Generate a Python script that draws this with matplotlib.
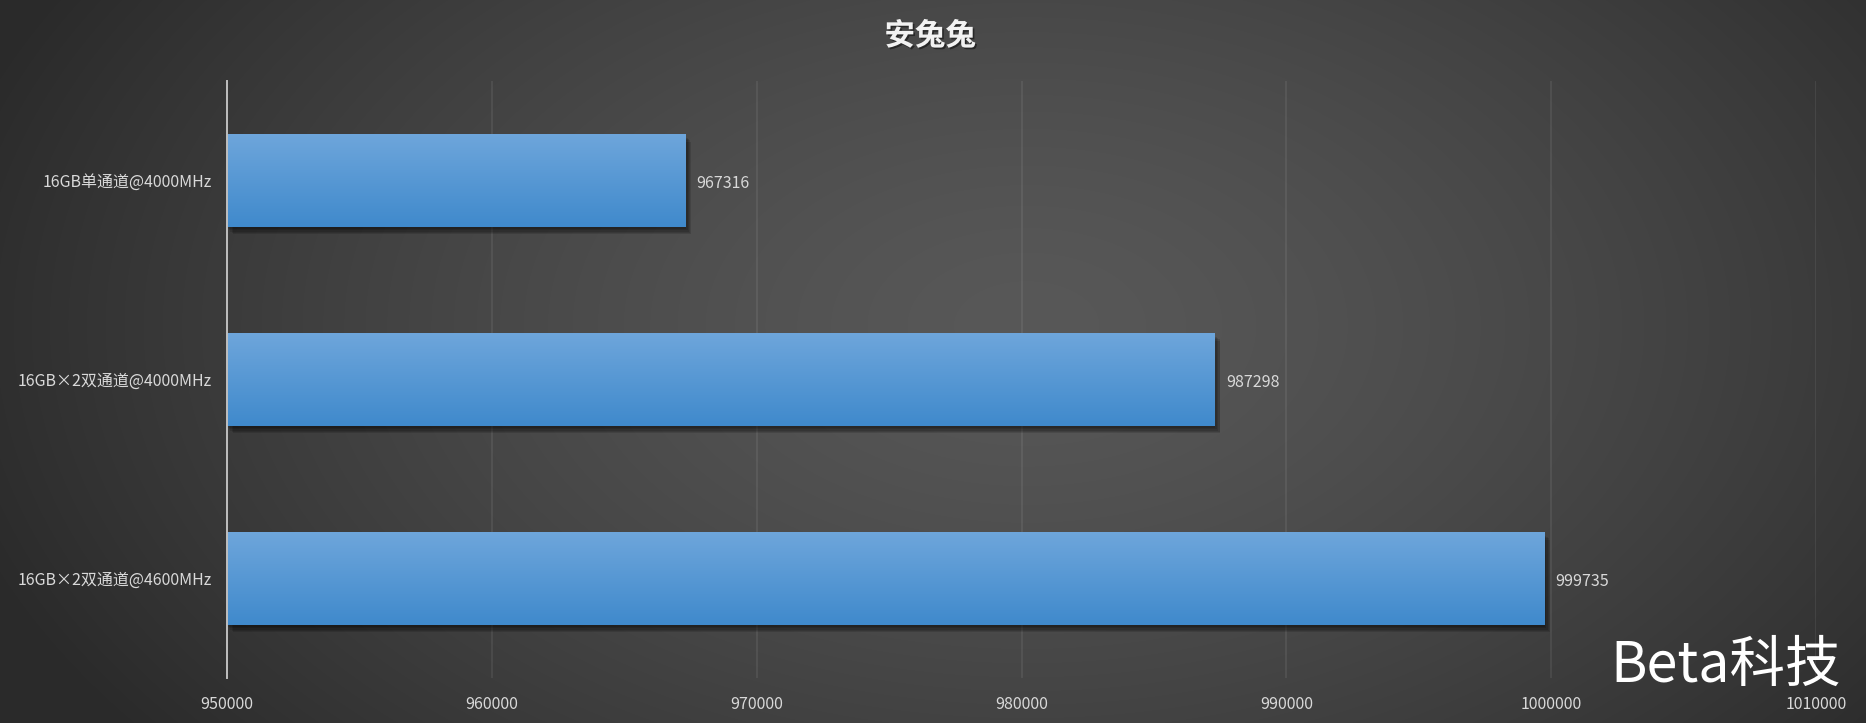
import numpy as np
import matplotlib
matplotlib.use("Agg")
import matplotlib.pyplot as plt
import matplotlib.patheffects as pe

plt.rcParams['font.family'] = ['Noto Sans CJK SC', 'DejaVu Sans']

title = "安兔兔"
categories = ["16GB单通道@4000MHz", "16GB×2双通道@4000MHz", "16GB×2双通道@4600MHz"]
values = [967316, 987298, 999735]
xticks = [950000, 960000, 970000, 980000, 990000, 1000000, 1010000]
watermark = "Beta科技"

W, H = 1866, 723
fig = plt.figure(figsize=(W / 100, H / 100), dpi=100)

# radial gradient background
bg = fig.add_axes([0, 0, 1, 1], zorder=-10)
yy, xx = np.mgrid[0:H, 0:W]
cx, cy = 0.55 * W, 0.45 * H
d = np.sqrt(((xx - cx) / (0.6 * W)) ** 2 + ((yy - cy) / (0.95 * H)) ** 2)
d = np.clip(d, 0, 1)
lv = (0x58 - (0x58 - 0x2a) * d ** 1.4) / 255.0
img = np.dstack([lv, lv, lv])
bg.imshow(img, aspect='auto', extent=(0, 1, 0, 1), origin='upper')
bg.set_axis_off()

ax = fig.add_axes([227 / W, 1 - 678 / H, (1816 - 227) / W, (678 - 81) / H])
ax.patch.set_alpha(0)

y = np.arange(len(categories))
bh = 0.465
shadow = [pe.SimplePatchShadow(offset=o, shadow_rgbFace='black', alpha=0.13)
          for o in [(0.5, -1.5), (1.5, -2.5), (2.5, -3.5), (3.5, -4.5), (4, -5.5)]]
bars = ax.barh(y, [v - xticks[0] for v in values], left=xticks[0], height=bh,
               color='#5599d5', zorder=3, path_effects=shadow + [pe.Normal()])

top = np.array([0.43, 0.65, 0.86])
bot = np.array([0.25, 0.54, 0.80])
t = np.linspace(0, 1, 100)[:, None]
grad = (top[None, :] * (1 - t) + bot[None, :] * t)[:, None, :]
for b in bars:
    x0, y0 = b.get_x(), b.get_y()
    w, h = b.get_width(), b.get_height()
    im = ax.imshow(grad, aspect='auto', extent=(x0, x0 + w, y0 + h, y0), origin='upper', zorder=4)
    im.set_clip_path(b)

for yi, v in zip(y, values):
    ax.annotate(f"{v}", (v, yi), xytext=(8, -2), textcoords='offset points',
                va='center', ha='left', color='#d9d9d9', fontsize=11.5, zorder=5)

ax.set_xlim(xticks[0], xticks[-1])
ax.set_ylim(len(categories) - 0.5, -0.5)
ax.set_xticks(xticks)
ax.set_xticklabels([str(v) for v in xticks])
ax.set_yticks(y)
ax.set_yticklabels(categories)
ax.tick_params(axis='x', length=0, pad=13, labelsize=11.5, labelcolor='#d9d9d9')
ax.tick_params(axis='y', length=0, pad=11, labelsize=11.5, labelcolor='#d9d9d9')
ax.grid(axis='x', color='#ffffff', alpha=0.07, linewidth=1.5, zorder=0)
for s in ['top', 'right', 'bottom']:
    ax.spines[s].set_visible(False)
ax.spines['left'].set_color('#bfbfbf')
ax.spines['left'].set_linewidth(1.4)
ax.spines['left'].set_zorder(6)

fig.text(0.4985, 1 - 36 / H, title, ha='center', va='center', fontsize=22, fontweight='bold',
         color='#f2f2f2',
         path_effects=[pe.withSimplePatchShadow(offset=(1.2, -1.2), shadow_rgbFace='black', alpha=0.45)])

fig.text(1726 / W, 1 - 666 / H, watermark, ha='center', va='center', fontsize=40,
         color='white')

fig.savefig("out.png", dpi=100)
